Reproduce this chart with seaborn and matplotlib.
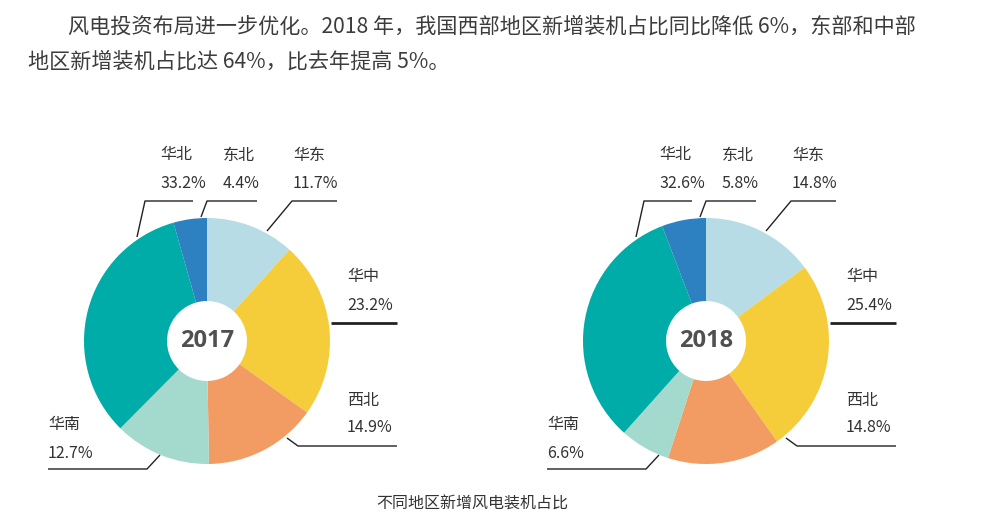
import matplotlib.pyplot as plt
import seaborn as sns

# =====================================
# DATA
# =====================================

regions = ["华东", "华中", "西北", "华南", "华北", "东北"]
share_2017 = [11.7, 23.2, 14.9, 12.7, 33.2, 4.4]
share_2018 = [14.8, 25.4, 14.8, 6.6, 32.6, 5.8]
years = ["2017", "2018"]

region_colors = ["#b7dce6", "#f5cc3a", "#f29b62", "#a4d9cd", "#00aca8", "#2e81c1"]

intro_line1 = "风电投资布局进一步优化。2018 年，我国西部地区新增装机占比同比降低 6%，东部和中部"
intro_line2 = "地区新增装机占比达 64%，比去年提高 5%。"
caption = "不同地区新增风电装机占比"

# =====================================
# LAYOUT (pixels, relative to donut centre, y up)
# =====================================

W, H = 988, 518
R = 123
centers = [(207, 341), (706, 341)]

# label: left x, y of name, y of percentage
label_pos = {
    "华北": (-47, 186, 157),
    "东北": (16, 186, 157),
    "华东": (86, 186, 157),
    "华中": (140, 65, 35),
    "西北": (140, -59, -87),
    "华南": (-159, -83, -112),
}

# leader lines
leader = {
    "华北": [(-14, 140), (-62, 140), (-70, 104)],
    "东北": [(50, 140), (0, 140), (-6, 124)],
    "华东": [(130, 140), (85, 140), (60, 110)],
    "华中": [(190, 18), (124, 18)],
    "西北": [(190, -105), (91, -105), (80, -97)],
    "华南": [(-159, -128), (-60, -128), (-47, -114)],
}

# =====================================
# STYLE
# =====================================

sns.set_theme(style="white")
plt.rcParams['font.family'] = ['Noto Sans CJK SC', 'DejaVu Sans']
palette = sns.color_palette(region_colors)

fig = plt.figure(figsize=(W / 100, H / 100), dpi=100)
fig.patch.set_facecolor("white")

fig.text(68 / W, 1 - 27 / H, intro_line1, fontsize=15.2, color="#3c3c3c",
         fontweight="light", va="center", ha="left")
fig.text(28 / W, 1 - 62 / H, intro_line2, fontsize=15.2, color="#3c3c3c",
         fontweight="light", va="center", ha="left")

# =====================================
# DONUTS
# =====================================

for (cx, cy), year, shares in zip(centers, years, [share_2017, share_2018]):

    ax = fig.add_axes([
        (cx - R) / W,
        1 - (cy + R) / H,
        2 * R / W,
        2 * R / H
    ])

    ax.pie(
        shares,
        colors=palette,
        startangle=90,
        counterclock=False,
        radius=1,
        wedgeprops=dict(width=0.675, linewidth=0)
    )

    ax.set_xlim(-1, 1)
    ax.set_ylim(-1, 1)
    ax.axis("off")

    ax.text(0, 0, year, fontsize=17, fontweight="bold", color="#505050",
            ha="center", va="center", family=["Open Sans", "DejaVu Sans"])

    for name, value in zip(regions, shares):
        lx, ny, py = label_pos[name]
        ax.text(lx / R, ny / R, name, fontsize=11.5, color="#333333",
                fontweight="light", ha="left", va="center")
        ax.text(lx / R, py / R, f"{value}%", fontsize=11.5, color="#333333",
                fontweight="light", ha="left", va="center")

        pts = leader[name]
        lw = 2.0 if name == "华中" else 1.0
        ax.plot([p[0] / R for p in pts], [p[1] / R for p in pts],
                color="#222222", linewidth=lw, clip_on=False,
                solid_capstyle="butt")

fig.text(472 / W, 1 - 504 / H, caption, fontsize=11.5, color="#333333",
         fontweight="light", ha="center", va="center")

fig.savefig("out.png", dpi=100)
plt.close()
